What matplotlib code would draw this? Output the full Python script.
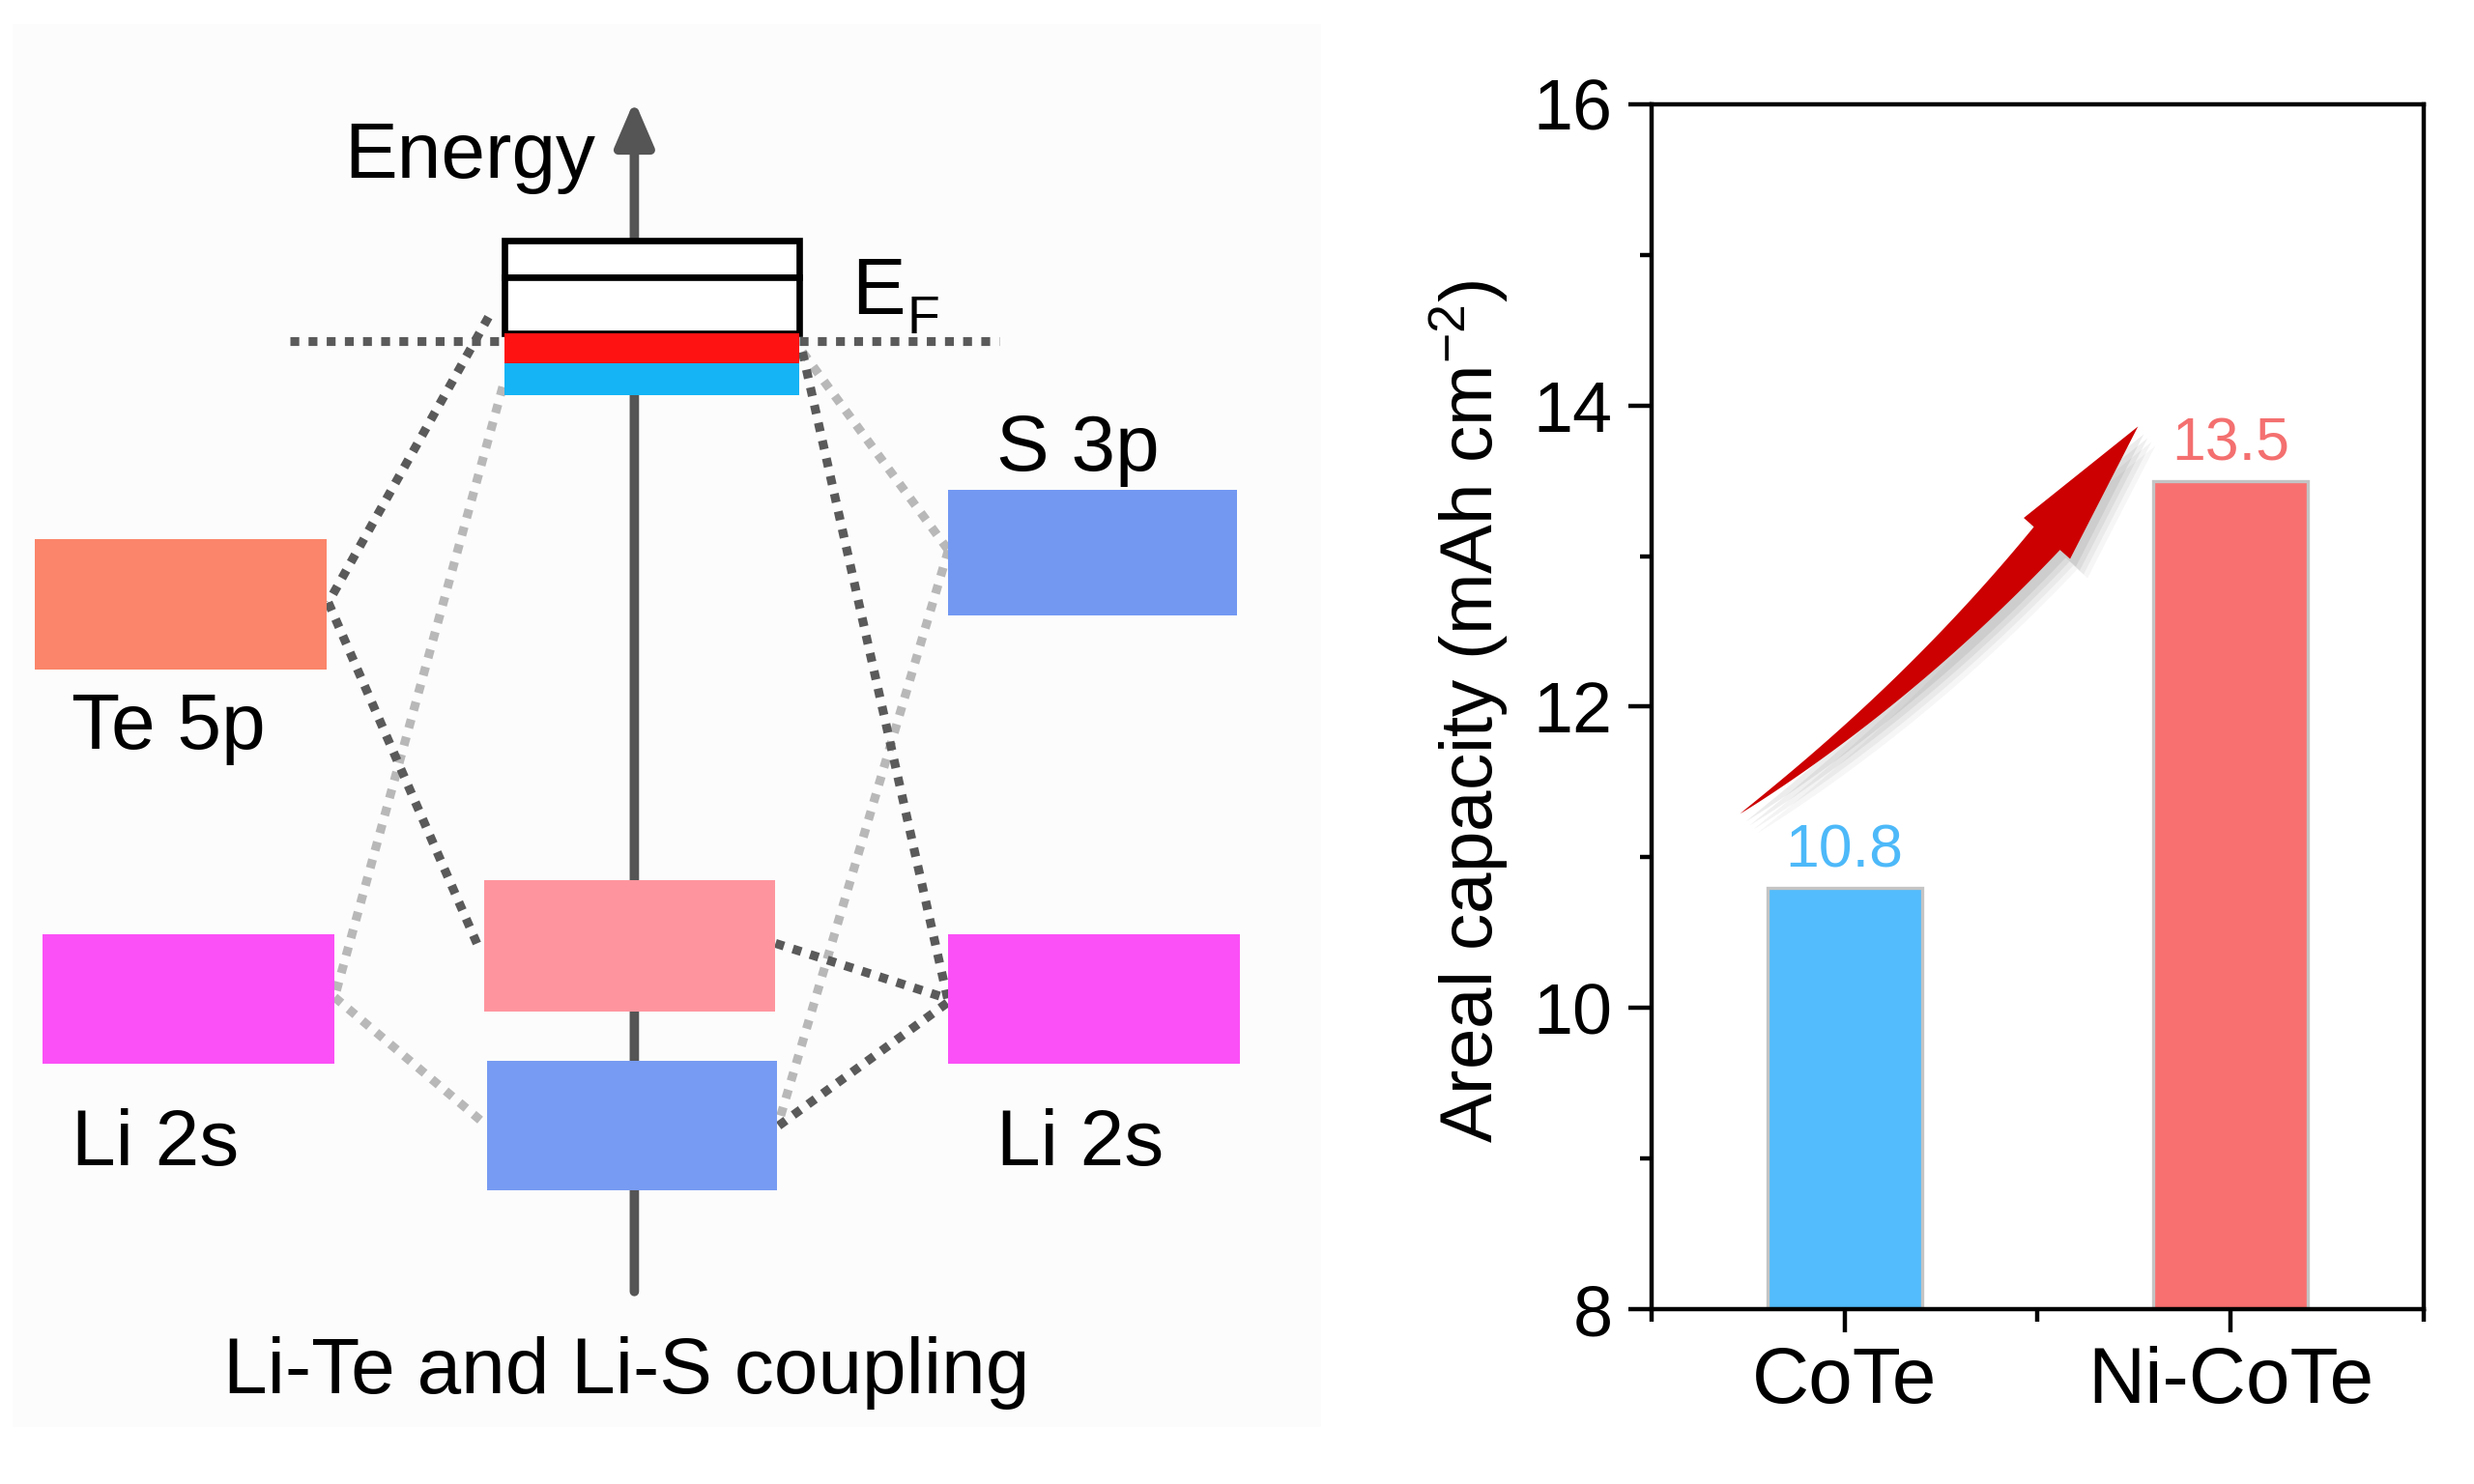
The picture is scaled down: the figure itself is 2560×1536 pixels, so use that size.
import numpy as np
import matplotlib.pyplot as plt
from matplotlib.patches import Rectangle, Polygon

plt.rcParams['font.family'] = ['Liberation Sans', 'DejaVu Sans']
plt.rcParams['mathtext.fontset'] = 'custom'
plt.rcParams['mathtext.rm'] = 'Liberation Sans'
plt.rcParams['mathtext.it'] = 'Liberation Sans:italic'
plt.rcParams['mathtext.bf'] = 'Liberation Sans:bold'

# ---- bar chart data ----
samples = ['CoTe', 'Ni-CoTe']
capacity = [10.8, 13.5]
bar_colors = ['#52BCFC', '#F97070']
label_colors = ['#4DB9F9', '#F47070']

# ---- energy level diagram (canvas units 1560 x 936, y pointing down) ----
level_x = [22, 598, 27, 598, 305, 307]
level_y = [340, 309, 589, 589, 555, 669]
level_w = [184, 182, 184, 184, 184, 183]
level_h = [82, 79, 82, 82, 83, 82]
level_colors = ['#FB856A', '#7298F2', '#FB50F7', '#FB50F7', '#FE959E', '#779BF2']

level_labels = ['Te 5p', 'S 3p', 'Li 2s', 'Li 2s']
label_x = [45, 628, 45, 628]
label_y = [472, 297, 735, 735]

# bands near the Fermi level
band_y = [152, 175, 210, 229]
band_h = [23, 35, 19, 20]
band_colors = ['white', 'white', '#FF1212', '#14B4F5']
band_x, band_w = 318, 186

dark_lines = [((308, 200), (207, 380)), ((207, 380), (302, 598)),
              ((506, 222), (598, 632)), ((489, 595), (598, 630)),
              ((491, 710), (598, 632))]
light_lines = [((317, 244), (211, 629)), ((211, 629), (307, 710)),
               ((506, 222), (598, 347)), ((598, 347), (491, 708))]
fermi_y = 215
fermi_segments = [(183, 318), (504, 630)]

fig = plt.figure(figsize=(12.8, 7.68), dpi=200)

# left schematic
ax0 = fig.add_axes([0, 0, 1, 1])
ax0.set_xlim(0, 1560)
ax0.set_ylim(936, 0)
ax0.axis('off')
ax0.add_patch(Rectangle((8, 15), 825, 885, facecolor='#FCFCFC', edgecolor='none', zorder=0))

dot = dict(linestyle=(0, (1, 1.05)), lw=3.3, dash_capstyle='butt', zorder=2)
for (x0, y0), (x1, y1) in light_lines:
    ax0.plot([x0, x1], [y0, y1], color='#B8B8B8', **dot)
for (x0, y0), (x1, y1) in dark_lines:
    ax0.plot([x0, x1], [y0, y1], color='#5A5A5A', **dot)
for xa, xb in fermi_segments:
    ax0.plot([xa, xb], [fermi_y, fermi_y], color='#5A5A5A', **dot)

# energy axis
ax0.annotate('', xy=(400, 60), xytext=(400, 818),
             arrowprops=dict(arrowstyle='-|>,head_length=0.7,head_width=0.3',
                             lw=3.5, color='#555555', mutation_scale=20),
             zorder=1)

for x, y, w, h, c in zip(level_x, level_y, level_w, level_h, level_colors):
    ax0.add_patch(Rectangle((x, y), w, h, facecolor=c, edgecolor='none', zorder=3))

for y, h, c in zip(band_y, band_h, band_colors):
    if c == 'white':
        ax0.add_patch(Rectangle((band_x, y), band_w, h, facecolor='white',
                                edgecolor='black', lw=2.4, zorder=3))
    else:
        ax0.add_patch(Rectangle((band_x, y), band_w, h, facecolor=c,
                                edgecolor='none', zorder=4))

tkw = dict(fontsize=29.5, color='black', va='baseline', ha='left')
for s, x, y in zip(level_labels, label_x, label_y):
    ax0.text(x, y, s, **tkw)
ax0.text(217, 112, 'Energy', **tkw)
ax0.text(537, 198, 'E', fontsize=30, va='baseline', ha='left')
ax0.text(572, 210, 'F', fontsize=20, va='baseline', ha='left')
ax0.text(395, 879, 'Li-Te and Li-S coupling', fontsize=29.5, va='baseline', ha='center')

# right bar chart
ax = fig.add_axes([0.6675, 0.1178, 0.3122, 0.812])
xpos = np.arange(len(samples))
ax.bar(xpos, capacity, width=0.4, color=bar_colors, edgecolor='#C4C4C4', lw=1.2, zorder=2)
for x, v, c in zip(xpos, capacity, label_colors):
    ax.text(x, v + 0.05, f'{v:.1f}', color=c, fontsize=22.5, ha='center', va='bottom')

ax.set_xlim(-0.5, 1.5)
ax.set_ylim(8, 16)
ax.set_xticks(xpos)
ax.set_xticklabels(samples)
ax.set_xticks([-0.5, 0.5, 1.5], minor=True)
ax.set_yticks([8, 10, 12, 14, 16])
ax.set_yticks([9, 11, 13, 15], minor=True)
ax.tick_params(which='both', direction='out', width=1.6)
ax.tick_params(which='major', length=8.5)
ax.tick_params(which='minor', length=4.5)
ax.tick_params(axis='x', pad=5, labelsize=29.5)
ax.tick_params(axis='y', pad=6, labelsize=26.5)
for sp in ax.spines.values():
    sp.set_linewidth(1.6)
ax.set_ylabel('Areal capacity (mAh cm$^{-2}$)', fontsize=27.5)
ax.yaxis.set_label_coords(-0.183, 0.496)


def tapered_arrow(ax, start, end, bend, width, head_len, head_w):
    p0 = ax.transData.transform(start)
    p2 = ax.transData.transform(end)
    d = p2 - p0
    u = d / np.hypot(*d)
    n = np.array([u[1], -u[0]])
    c = (p0 + p2) / 2 + n * bend
    t = np.linspace(0, 1, 400)[:, None]
    pts = (1 - t) ** 2 * p0 + 2 * (1 - t) * t * c + t ** 2 * p2
    seg = np.hypot(*np.diff(pts, axis=0).T)
    s = np.concatenate([[0], np.cumsum(seg)])
    k = np.searchsorted(s, s[-1] - head_len)
    shaft = pts[:k + 1]
    tang = np.gradient(shaft, axis=0)
    tang /= np.hypot(*tang.T)[:, None]
    nrm = np.column_stack([-tang[:, 1], tang[:, 0]])
    frac = s[:k + 1] / s[k]
    w = width * frac ** 0.85 / 2
    left = shaft + nrm * w[:, None]
    right = shaft - nrm * w[:, None]
    base = shaft[-1]
    nb = nrm[-1]
    head = np.array([base + nb * head_w / 2, p2, base - nb * head_w / 2])
    poly = np.vstack([left, head, right[::-1]])
    inv = ax.transData.inverted()
    for off, a in [((18, -20), 0.05), ((14, -16), 0.07), ((10, -12), 0.09), ((6, -8), 0.11)]:
        ax.add_patch(Polygon(inv.transform(poly + np.array(off)), closed=True,
                             facecolor='#555555', edgecolor='none', alpha=a, zorder=3))
    ax.add_patch(Polygon(inv.transform(poly), closed=True, facecolor='#CC0000',
                         edgecolor='none', zorder=4))


tapered_arrow(ax, (-0.27, 11.29), (0.76, 13.86), bend=45, width=36, head_len=150, head_w=64)

fig.savefig('out.png', dpi=200, facecolor='white')
